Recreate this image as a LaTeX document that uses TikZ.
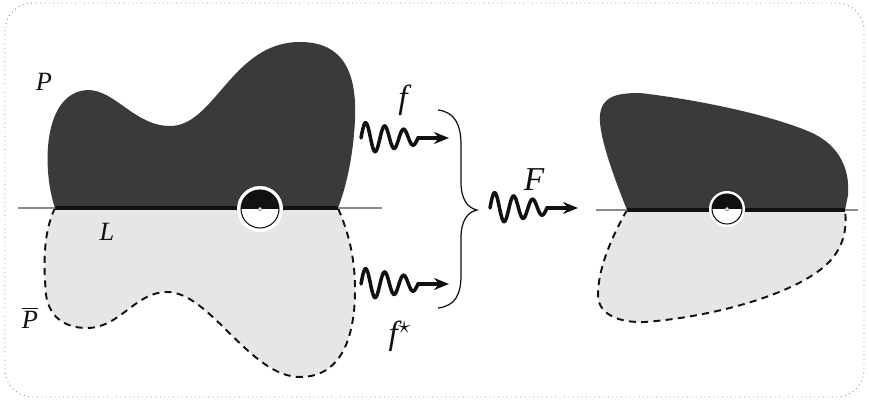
\documentclass[tikz,border=0pt]{standalone}
\usepackage{fontspec}
\setmainfont{Liberation Serif}
\usetikzlibrary{arrows.meta}
\definecolor{foldInk}{HTML}{111111}
\definecolor{foldDark}{HTML}{3A3A3A}
\definecolor{foldLight}{HTML}{E6E6E6}
\definecolor{foldGray}{HTML}{8A8A8A}
\tikzset{
  fold frame/.style={draw=foldGray, line width=0.5pt, dotted, rounded corners=0.55cm},
  fold upper/.style={fill=foldDark},
  fold lower/.style={fill=foldLight, draw=foldInk, line width=1.1pt, dash pattern=on 4pt off 3pt},
  fold axis/.style={draw=foldGray, line width=0.6pt},
  fold edge/.style={draw=foldInk, line width=2pt},
  fold wiggle/.style={draw=foldInk, line width=2pt, line cap=round,
    -{Stealth[length=3mm,width=2.4mm]}},
  fold brace/.style={draw=foldInk, line width=0.7pt},
  fold label/.style={font=\fontsize{15}{17}\selectfont\itshape, text=foldInk},
  fold big/.style={font=\fontsize{19}{21}\selectfont\itshape, text=foldInk}
}
\newcommand{\wiggle}[1]{%
  \draw[fold wiggle, shift={(#1)}] plot[domain=0:57, samples=120, smooth]
    (\x, {-(16-0.17*\x)*sin(18.947*\x)}) -- (88,0);}
\newcommand{\hinge}[3]{% centre, outer radius, inner radius
  \fill[white] (#1) circle (#2);
  \fill[foldInk] (#1) ++(-#3,0) arc[start angle=180, end angle=360, radius=#3] -- cycle;
  \draw[foldInk, line width=0.6pt] (#1) circle (#3);
  \filldraw[fill=white, draw=foldGray, line width=0.4pt] (#1) circle (1.8);}

\begin{document}
\begin{tikzpicture}[x=0.02cm, y=-0.02cm]
  \useasboundingbox (0,0) rectangle (869,401);
  \draw[fold frame] (5,3) rectangle (864,397);

  % left: P over the line L, and its mirror image
  \coordinate (Lw) at (18,208); \coordinate (La) at (55,208);
  \coordinate (Lb) at (338,208); \coordinate (Le) at (382,208);
  \fill[fold upper] (La) .. controls (42,170) and (42,92) .. (88,90)
    .. controls (115,90) and (135,126) .. (170,126)
    .. controls (215,126) and (232,42) .. (300,42)
    .. controls (345,42) and (357,75) .. (355,120)
    .. controls (353,160) and (345,190) .. (Lb) -- cycle;
  \path[fold lower] (La) .. controls (42,235) and (44,270) .. (46,295)
    .. controls (50,320) and (68,328) .. (87,328)
    .. controls (120,328) and (135,292) .. (167,292)
    .. controls (210,292) and (250,377) .. (300,377)
    .. controls (345,377) and (355,330) .. (355,290)
    .. controls (355,250) and (345,225) .. (Lb);
  \draw[fold axis] (Lw) -- (La);
  \draw[fold edge] (La) -- (Lb);
  \draw[fold axis] (Lb) -- (Le);
  \coordinate (h1) at (260,209);
  \hinge{h1}{23}{19}

  \node[fold label] (P) at (44,82) {P};
  \node[fold label] (Pbar) at (30,318) {$\overline{\mbox{\itshape P}}$};
  \node[fold label] (L) at (107,232) {L};

  % the two maps, gathered into F
  \coordinate (fA) at (361,138); \coordinate (fB) at (361,284);
  \coordinate (fC) at (490,208);
  \wiggle{fA}
  \wiggle{fB}
  \wiggle{fC}
  \node[fold big] (f) at (403,100) {f};
  \node[fold big] (fstar) at (400,336) {f\textsuperscript{$\star$}};
  \node[fold big] (F) at (534,180) {F};

  \coordinate (bt) at (438,110); \coordinate (bm) at (477,210); \coordinate (bb) at (438,308);
  \draw[fold brace] (bt) .. controls (455,112) and (461,125) .. (461,145) -- (461,182)
    .. controls (461,200) and (468,208) .. (bm)
    .. controls (468,212) and (461,220) .. (461,238) -- (461,275)
    .. controls (461,295) and (455,306) .. (bb);

  % right: the folded result
  \coordinate (Qw) at (596,210); \coordinate (Qa) at (627,210);
  \coordinate (Qb) at (845,210); \coordinate (Qe) at (858,210);
  \fill[fold upper] (Qa) .. controls (615,180) and (598,135) .. (600,115)
    .. controls (602,97) and (615,93) .. (640,93)
    .. controls (700,100) and (770,115) .. (810,132)
    .. controls (840,145) and (850,170) .. (848,195) -- (Qb) -- cycle;
  \path[fold lower] (Qa) .. controls (610,240) and (598,270) .. (598,295)
    .. controls (598,315) and (620,323) .. (645,322)
    .. controls (700,318) and (780,300) .. (820,270)
    .. controls (840,255) and (848,235) .. (Qb);
  \draw[fold axis] (Qw) -- (Qa);
  \draw[fold edge] (Qa) -- (Qb);
  \draw[fold axis] (Qb) -- (Qe);
  \coordinate (h2) at (727,209);
  \hinge{h2}{18}{15}
\end{tikzpicture}
\end{document}
